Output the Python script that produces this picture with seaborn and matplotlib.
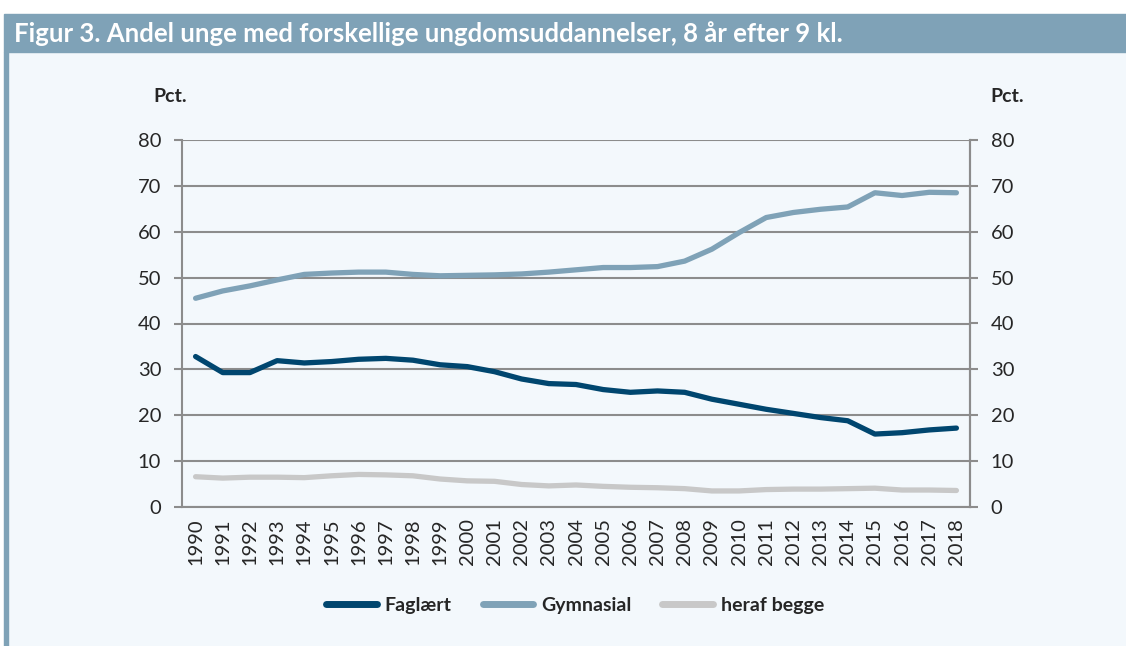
import numpy as np
import pandas as pd
import matplotlib
matplotlib.use("Agg")
import matplotlib.pyplot as plt
import seaborn as sns

# data
years = list(range(1990, 2019))
faglaert = [32.8, 29.3, 29.3, 31.9, 31.4, 31.7, 32.2, 32.4, 32.0, 31.0,
            30.6, 29.5, 27.9, 26.9, 26.7, 25.6, 25.0, 25.3, 25.0, 23.5,
            22.4, 21.3, 20.4, 19.5, 18.8, 15.9, 16.2, 16.8, 17.2]
gymnasial = [45.5, 47.1, 48.2, 49.5, 50.7, 51.0, 51.2, 51.2, 50.7, 50.4,
             50.5, 50.6, 50.8, 51.2, 51.7, 52.2, 52.2, 52.4, 53.6, 56.2,
             59.8, 63.1, 64.2, 64.9, 65.4, 68.5, 67.9, 68.6, 68.5]
begge = [6.6, 6.3, 6.5, 6.5, 6.4, 6.8, 7.1, 7.0, 6.8, 6.1,
         5.7, 5.6, 4.9, 4.6, 4.8, 4.5, 4.3, 4.2, 4.0, 3.5,
         3.5, 3.8, 3.9, 3.9, 4.0, 4.1, 3.7, 3.7, 3.6]
series_names = ["Faglært", "Gymnasial", "heraf begge"]
colors = ["#00466f", "#7fa2b7", "#c8c8c8"]
title = "Figur 3. Andel unge med forskellige ungdomsuddannelser, 8 år efter 9 kl."

df = pd.DataFrame({
    "year": years * 3,
    "value": faglaert + gymnasial + begge,
    "serie": [s for s in series_names for _ in years],
})

sns.set_theme(style="white")
plt.rcParams["font.family"] = ["Lato", "DejaVu Sans"]

bg = "#f3f8fc"
grid_c = "#8c8c8c"

fig = plt.figure(figsize=(11.26, 6.46), dpi=100)
fig.patch.set_facecolor("white")

# panel background + title bar + left border
fig.patches.append(plt.Rectangle((4 / 1126, 0), 1 - 4 / 1126, 1 - 52 / 646,
                                 transform=fig.transFigure, color=bg, zorder=-2))
fig.patches.append(plt.Rectangle((4 / 1126, 1 - 52 / 646), 1, 38 / 646,
                                 transform=fig.transFigure, color="#7fa2b7", zorder=-2))
fig.patches.append(plt.Rectangle((4 / 1126, 0), 4 / 1126, 1 - 52 / 646,
                                 transform=fig.transFigure, color="#7fa2b7", zorder=-2))
fig.text(14 / 1126, 1 - 34 / 646, title, color="white", fontsize=18.5,
         fontweight="bold", va="center", ha="left")

ax = fig.add_axes([182 / 1126, 1 - 507 / 646, (970 - 182) / 1126, (507 - 140) / 646])
ax.set_facecolor(bg)

sns.lineplot(data=df, x="year", y="value", hue="serie", palette=colors,
             hue_order=series_names, linewidth=3.8, ax=ax, legend=True,
             solid_capstyle="round")

ax.set_xlim(1989.5, 2018.5)
ax.set_ylim(0, 80)
ax.set_yticks(range(0, 81, 10))
ax.yaxis.grid(True, color=grid_c, linewidth=1.5)
ax.set_axisbelow(True)
ax.set_xticks(years)
ax.set_xticklabels([str(y) for y in years], rotation=90)
ax.set_xticks(np.arange(1989.5, 2019, 1), minor=True)
ax.tick_params(axis="x", which="major", length=0, pad=8, labelsize=14.5)
ax.tick_params(axis="x", which="minor", length=6, color=grid_c, width=1.5)
ax.tick_params(axis="y", length=6, color=grid_c, width=1.5, labelsize=14.5, pad=9)
ax.set_xlabel("")
ax.set_ylabel("")
for side in ["left", "bottom", "right"]:
    ax.spines[side].set_color(grid_c)
    ax.spines[side].set_linewidth(1.5)
ax.spines["top"].set_visible(False)

ax2 = ax.twinx()
ax2.set_ylim(0, 80)
ax2.set_yticks(range(0, 81, 10))
ax2.tick_params(axis="y", length=6, color=grid_c, width=1.5, labelsize=14.5, pad=9)
for side in ["left", "bottom", "top"]:
    ax2.spines[side].set_visible(False)
ax2.spines["right"].set_color(grid_c)
ax2.spines["right"].set_linewidth(1.5)

fig.text(170 / 1126, 1 - 97 / 646, "Pct.", fontsize=14, fontweight="bold",
         ha="center", va="center")
fig.text(1007 / 1126, 1 - 97 / 646, "Pct.", fontsize=14, fontweight="bold",
         ha="center", va="center")

handles, labels = ax.get_legend_handles_labels()
for h in handles:
    h.set_linewidth(5)
ax.legend(handles, labels, loc="center", bbox_to_anchor=(575 / 1126, 1 - 605 / 646),
          bbox_transform=fig.transFigure, ncol=3, frameon=False,
          prop={"weight": "bold", "size": 14}, handlelength=2.6,
          handletextpad=0.4, columnspacing=1.6)

fig.savefig("out.png", dpi=100, facecolor=fig.get_facecolor())
